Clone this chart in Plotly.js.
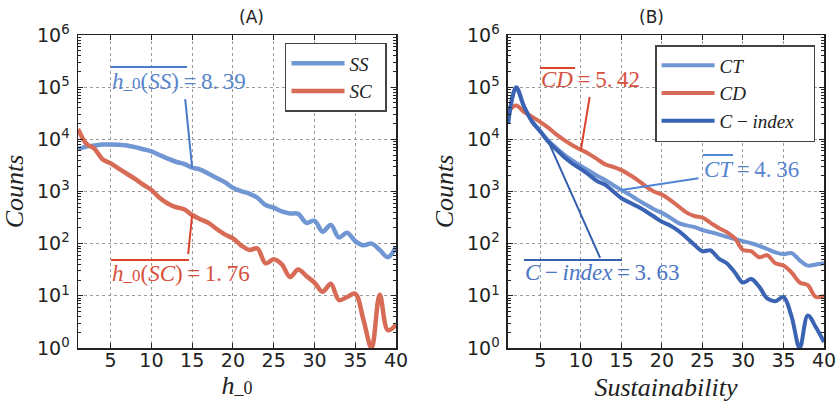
<!DOCTYPE html>
<html><head><meta charset="utf-8">
<script src="https://cdn.plot.ly/plotly-3.0.1.min.js"></script>
<style>html,body{margin:0;padding:0;background:#fff}#chart{width:838px;height:403px}</style>
</head><body><div id="chart"></div>
<script>
// ---------- data ----------
const h0Values = [1,2,3,4,5,6,7,8,9,10,11,12,13,14,15,16,17,18,19,20,21,22,23,24,25,26,27,28,29,30,31,32,33,34,35,36,37,38,39,40];
const ssCounts = [6460,7240,7590,7940,8000,7900,7600,7080,6460,5890,5010,4270,3720,3390,2880,2630,2190,1820,1510,1175,1020,912,759,550,490,417,380,372,251,275,170,229,132,162,112,93,100,76,55,87];
const scCounts = [15800,8320,6610,4170,3470,2750,2190,1740,1350,1070,759,589,501,457,355,295,251,191,151,126,93,76,81,42,50,40,23,32,24,18,12,17,8.3,9.5,11,3.5,1,10.5,2.2,2.8];

const sustValues = [1,2,3,4,5,6,7,8,9,10,11,12,13,14,15,16,17,18,19,20,21,22,23,24,25,26,27,28,29,30,31,32,33,34,35,36,37,38,39,40];
const ctCounts = [20000,95500,41700,22400,14100,9330,6760,5010,3890,3090,2510,2000,1660,1320,1070,871,692,562,457,389,316,251,224,209,182,166,151,135,123,112,102,91,79,68,63,66,48,38,40,42];
const cdCounts = [33900,44700,33100,26900,21400,16600,12300,9550,7590,6310,5250,4170,3310,2950,2570,2090,1660,1260,1000,871,692,525,398,339,316,251,200,166,126,76,72,55,60,42,38,28,18,16,9.5,10];
const ciCounts = [20000,100000,41700,21400,14100,8910,6310,4470,3390,2690,2090,1580,1350,1000,741,617,513,417,331,263,224,178,132,95,72,74,52,42,28,18,21,15,8.9,7.9,9.5,4,1,4.2,2.5,1.3];

const seriesNamesA = ['<i>SS</i>\u00a0\u2009', '<i>SC</i>\u00a0\u2009'];
const seriesNamesB = ['<i>CT</i>', '<i>CD</i>', '<i>C</i> − <i>index</i>\u00a0\u00a0\u00a0'];
const panelTitles = ['(A)', '(B)'];
const xTickVals = [5,10,15,20,25,30,35,40];
const yTickVals = [1,10,100,1000,10000,100000,1000000];
const yTickText = ['10<sup>0</sup>','10<sup>1</sup>','10<sup>2</sup>','10<sup>3</sup>','10<sup>4</sup>','10<sup>5</sup>','10<sup>6</sup>'];
const meanSS = '8.39', meanSC = '1.76', meanCD = '5.42', meanCT = '4.36', meanCI = '3.63';

// ---------- style ----------
const cLight = '#7097d3', cRed = '#d86b56', cDark = '#3b63b3';
const txtBlue = '#5784cc', txtRed = '#d7503e';
const mathFont = 'Liberation Serif';
const ink = '#222';

function lineTrace(x, y, name, color, width, xa, ya, legend) {
  return {x: x, y: y, name: name, type: 'scatter', mode: 'lines',
    line: {color: color, width: width, shape: 'spline', smoothing: 1},
    xaxis: xa, yaxis: ya, legend: legend, hoverinfo: 'skip'};
}

const traces = [
  lineTrace(h0Values, ssCounts, seriesNamesA[0], cLight, 4.5, 'x', 'y', 'legend'),
  lineTrace(h0Values, scCounts, seriesNamesA[1], cRed, 4.5, 'x', 'y', 'legend'),
  lineTrace(sustValues, ctCounts, seriesNamesB[0], cLight, 4, 'x2', 'y2', 'legend2'),
  lineTrace(sustValues, cdCounts, seriesNamesB[1], cRed, 4, 'x2', 'y2', 'legend2'),
  lineTrace(sustValues, ciCounts, seriesNamesB[2], cDark, 4, 'x2', 'y2', 'legend2')
];

function xAxis(domain, title, anchor, standoff) {
  return {domain: domain, anchor: anchor, range: [1, 40], tickmode: 'array', tickvals: xTickVals,
    showline: true, linecolor: ink, linewidth: 1.5, mirror: 'allticks',
    ticks: 'inside', ticklen: 5, tickcolor: ink, tickwidth: 1, ticklabelstandoff: -5,
    showgrid: true, gridcolor: '#9a9a9a', griddash: 'dot', gridwidth: 1, zeroline: false,
    tickfont: {family: 'DejaVu Sans', size: 19, color: ink},
    title: {text: title, font: {family: mathFont, size: 26, color: ink}, standoff: standoff}};
}
function yAxis(anchor) {
  return {type: 'log', range: [0, 6], anchor: anchor, tickmode: 'array', tickvals: yTickVals, ticktext: yTickText,
    showline: true, linecolor: ink, linewidth: 1.5, mirror: 'allticks',
    ticks: 'inside', ticklen: 5, tickcolor: ink, tickwidth: 1, ticklabelstandoff: 3,
    minor: {ticks: 'inside', ticklen: 3, tickcolor: ink, dtick: 'D1', showgrid: false},
    showgrid: true, gridcolor: '#9a9a9a', griddash: 'dot', gridwidth: 1, zeroline: false,
    tickfont: {family: 'DejaVu Sans', size: 19, color: ink},
    title: {text: '<i>Counts</i>', font: {family: mathFont, size: 26, color: ink}, standoff: 6}};
}

const dA = [0, 0.4263], dB = [0.5764, 1];

function pointer(xa, ya, x, y, ax, ayLog, color) {
  return {xref: xa, yref: ya, x: x, y: Math.log10(y), axref: xa, ayref: ya, ax: ax, ay: ayLog,
    text: ' ', font: {size: 1}, showarrow: true, arrowhead: 0, arrowwidth: 2, arrowcolor: color, standoff: 0, startstandoff: 0};
}
function label(xa, ya, x, yLog, html, color) {
  return {xref: xa, yref: ya, x: x, y: yLog, text: html, showarrow: false,
    font: {family: mathFont, size: 23, color: color}, xanchor: 'left', yanchor: 'middle'};
}
function overline(xa, x0, x1, yPaper, color) {
  return {type: 'line', xref: xa, yref: 'paper', x0: x0, x1: x1, y0: yPaper, y1: yPaper,
    line: {color: color, width: 2}};
}
function num(s) { return s.replace('.', '.\u2009'); }

const sub0 = '<span style="font-size:17px">_0</span>';
const eq = '\u2009=\u2009';
const annotations = [
  {xref: 'paper', yref: 'paper', x: (dA[0] + dA[1]) / 2, y: 1.0575, text: panelTitles[0], showarrow: false,
    font: {family: 'DejaVu Sans', size: 17, color: ink}, yanchor: 'middle'},
  {xref: 'paper', yref: 'paper', x: (dB[0] + dB[1]) / 2, y: 1.0575, text: panelTitles[1], showarrow: false,
    font: {family: 'DejaVu Sans', size: 17, color: ink}, yanchor: 'middle'},
  pointer('x', 'y', 15, ssCounts[14], 14.12, 4.81, '#4a7cc9'),
  pointer('x', 'y', 15, scCounts[14], 14.49, 1.76, '#d9442f'),
  pointer('x2', 'y2', 10, cdCounts[9], 11.12, 4.85, '#d9442f'),
  pointer('x2', 'y2', 15, ctCounts[14], 24.7, 3.26, '#4f86d6'),
  pointer('x2', 'y2', 6, ciCounts[5], 12.48, 1.69, '#3560b0'),
  label('x', 'y', 4.9, 5.11, '<i>h</i>' + sub0 + '(<i>SS</i>)' + eq + num(meanSS), txtBlue),
  label('x', 'y', 4.9, 1.43, '<i>h</i>' + sub0 + '(<i>SC</i>)' + eq + num(meanSC), txtRed),
  label('x2', 'y2', 4.85, 5.15, '<i>CD</i>' + eq + num(meanCD), txtRed),
  label('x2', 'y2', 24.95, 3.42, '<i>CT</i>' + eq + num(meanCT), txtBlue),
  label('x2', 'y2', 2.9, 1.45, '<i>C</i>\u2009−\u2009<i>index</i>' + eq + num(meanCI), '#4a74c4')
];

const shapes = [
  overline('x', 5.05, 14.37, 0.8978, '#4a7cc9'),
  overline('x', 5.05, 14.61, 0.2812, '#d9442f'),
  overline('x2', 4.95, 9.27, 0.8946, '#d9442f'),
  overline('x2', 25.07, 28.77, 0.6166, '#4f86d6'),
  overline('x2', 2.97, 15.07, 0.2812, '#3560b0')
];

const legendBase = {bgcolor: '#fff', bordercolor: '#444', borderwidth: 1.5, xanchor: 'right', yanchor: 'top',
  font: {family: mathFont, size: 19, color: ink}, tracegroupgap: 0, itemwidth: 53};

const layout = {
  width: 838, height: 403,
  margin: {l: 78, r: 14, t: 35, b: 55},
  paper_bgcolor: '#fff', plot_bgcolor: '#fff',
  showlegend: true,
  xaxis: xAxis(dA, '<i>h</i><span style="font-size:18px">_0</span>', 'y', 4),
  yaxis: yAxis('x'),
  xaxis2: xAxis(dB, '<i>Sustainability</i>', 'y2', 7),
  yaxis2: yAxis('x2'),
  legend: Object.assign({}, legendBase, {x: 0.4142, y: 0.975}),
  legend2: Object.assign({}, legendBase, {x: 0.988, y: 0.968}),
  annotations: annotations,
  shapes: shapes
};

Plotly.newPlot('chart', traces, layout, {staticPlot: true, displayModeBar: false});
</script></body></html>
